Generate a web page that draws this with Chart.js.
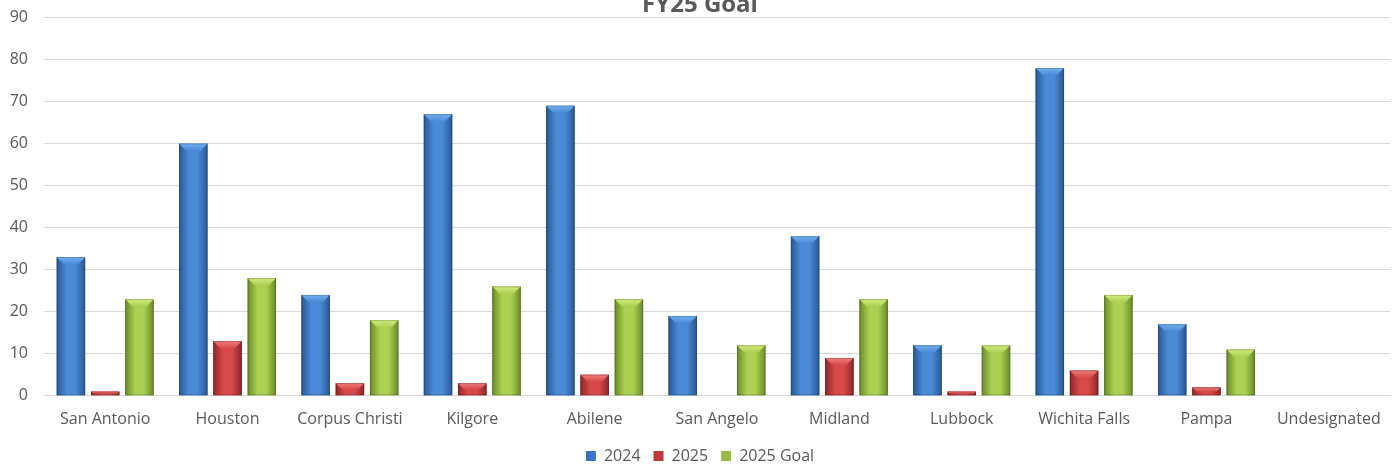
<!DOCTYPE html>
<html>
<head>
<meta charset="utf-8">
<script src="https://cdn.jsdelivr.net/npm/chart.js@4"></script>
<style>
  html, body { margin: 0; padding: 0; background: #fff; overflow: hidden; }
  #wrap { position: absolute; left: 0; top: -8px; width: 1398px; height: 484px; }
</style>
</head>
<body>
<div id="wrap"><canvas id="chart"></canvas></div>
<script>
  // Daten
  // ----------------------------------------------------------------------------------------
  const categories = ['San Antonio', 'Houston', 'Corpus Christi', 'Kilgore', 'Abilene', 'San Angelo',
                      'Midland', 'Lubbock', 'Wichita Falls', 'Pampa', 'Undesignated'];
  const values2024 = [33, 60, 24, 67, 69, 19, 38, 12, 78, 17, 0];
  const values2025 = [1, 13, 3, 3, 5, 0, 9, 1, 6, 2, 0];
  const valuesGoal = [23, 28, 18, 26, 23, 12, 23, 12, 24, 11, 0];
  const yTicks     = [0, 10, 20, 30, 40, 50, 60, 70, 80, 90];

  // Farben: Rand, Mitte, Kante oben
  const shades = {
    '2024':      { flat: '#3b74c0', edge: '#2a5894', mid: '#4a8ad6', top: '#74b0f2' },
    '2025':      { flat: '#c0393b', edge: '#8f2626', mid: '#d84a4a', top: '#f27c7c' },
    '2025 Goal': { flat: '#98bb45', edge: '#6a8a28', mid: '#acd052', top: '#d2ec80' }
  };

  // Zylinder-Optik über die Balken legen
  // ----------------------------------------------------------------------------------------
  const bevelBars = {
    id: 'bevelBars',
    afterDatasetsDraw(chart) {
      const ctx = chart.ctx;
      chart.data.datasets.forEach((ds, i) => {
        const meta = chart.getDatasetMeta(i);
        const c = shades[ds.label];
        meta.data.forEach(el => {
          const p = el.getProps(['x', 'y', 'base', 'width'], true);
          const h = p.base - p.y;
          if (h < 0.5) return;
          const l = p.x - p.width / 2, r = p.x + p.width / 2;
          const g = ctx.createLinearGradient(l, 0, r, 0);
          g.addColorStop(0, c.edge);
          g.addColorStop(0.35, c.mid);
          g.addColorStop(0.65, c.mid);
          g.addColorStop(1, c.edge);
          ctx.save();
          ctx.fillStyle = g;
          ctx.fillRect(l, p.y, p.width, h);
          const b = Math.min(7, h / 2);
          const tg = ctx.createLinearGradient(0, p.y, 0, p.y + b);
          tg.addColorStop(0, c.top);
          tg.addColorStop(1, c.mid);
          ctx.fillStyle = tg;
          ctx.beginPath();
          ctx.moveTo(l, p.y);
          ctx.lineTo(r, p.y);
          ctx.lineTo(r - b, p.y + b);
          ctx.lineTo(l + b, p.y + b);
          ctx.closePath();
          ctx.fill();
          ctx.strokeStyle = 'rgba(0,0,0,0.18)';
          ctx.lineWidth = 1;
          ctx.strokeRect(l + 0.5, p.y + 0.5, p.width - 1, h - 1);
          ctx.restore();
        });
      });
    }
  };

  const font = { family: '"Open Sans", sans-serif', size: 16 };

  new Chart(document.getElementById('chart'), {
    type: 'bar',
    data: {
      labels: categories,
      datasets: [
        { label: '2024',      data: values2024, backgroundColor: shades['2024'].flat },
        { label: '2025',      data: values2025, backgroundColor: shades['2025'].flat },
        { label: '2025 Goal', data: valuesGoal, backgroundColor: shades['2025 Goal'].flat }
      ]
    },
    options: {
      responsive: true,
      maintainAspectRatio: false,
      animation: false,
      datasets: { bar: { categoryPercentage: 0.84, barPercentage: 0.83 } },
      layout: { padding: { left: 10, right: 8, top: 0, bottom: 2 } },
      plugins: {
        title: {
          display: true,
          text: 'FY25 Goal',
          color: '#595959',
          font: { family: '"Open Sans", sans-serif', size: 24, weight: 'bold', lineHeight: 1 },
          padding: { top: 0, bottom: 0 }
        },
        legend: {
          position: 'bottom',
          labels: {
            color: '#595959',
            font,
            boxWidth: 10,
            boxHeight: 10,
            padding: 13
          }
        },
        tooltip: { enabled: false }
      },
      scales: {
        x: {
          grid: { display: false },
          border: { display: true, color: '#d9d9d9' },
          ticks: { color: '#595959', font, padding: 6, maxRotation: 0, autoSkip: false },
          // Beschriftungen passen in ihre Kategorie, kein Extra-Rand nötig
          afterFit: (axis) => { axis.paddingLeft = 0; axis.paddingRight = 0; }
        },
        y: {
          min: 0,
          max: 90,
          afterBuildTicks: (axis) => { axis.ticks = yTicks.map(v => ({ value: v })); },
          afterFit: (axis) => { axis.width = 34; },
          grid: { color: '#d9d9d9', drawTicks: false },
          border: { display: false },
          ticks: { color: '#595959', font, padding: 16 }
        }
      }
    },
    plugins: [bevelBars]
  });
</script>
</body>
</html>
